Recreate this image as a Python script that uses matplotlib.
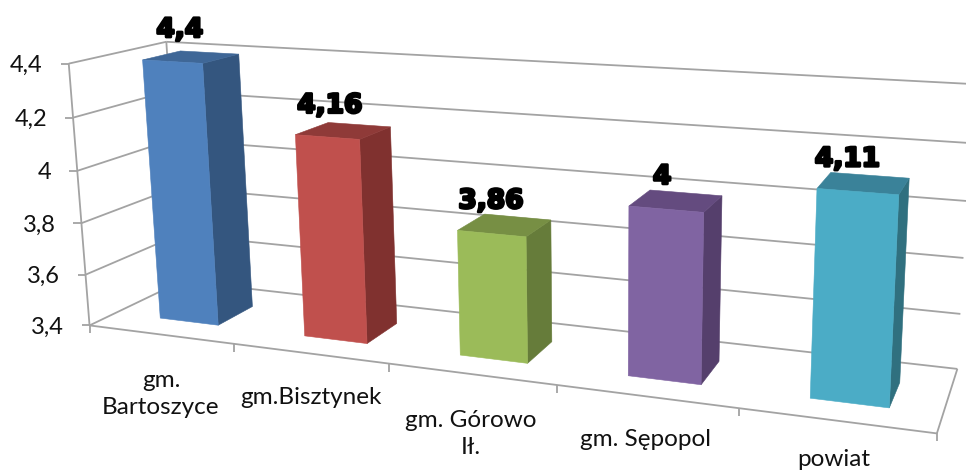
import numpy as np
import matplotlib
matplotlib.use("Agg")
import matplotlib.pyplot as plt
from matplotlib.patches import Polygon
import matplotlib.patheffects as pe

categories = ["gm.\nBartoszyce", "gm.Bisztynek", "gm. Górowo\nIł.", "gm. Sępopol", "powiat"]
values = [4.4, 4.16, 3.86, 4.0, 4.11]
value_labels = ["4,4", "4,16", "3,86", "4", "4,11"]
y_ticks = [3.4, 3.6, 3.8, 4.0, 4.2, 4.4]
y_tick_labels = ["3,4", "3,6", "3,8", "4", "4,2", "4,4"]

front_colors = ["#4F81BD", "#C0504D", "#9BBB59", "#8064A2", "#4BACC6"]
side_colors = ["#34567F", "#80312F", "#667C3A", "#553F6C", "#30707F"]
top_colors = ["#3F6797", "#8F3A38", "#778F44", "#644B7F", "#3A8299"]

Y_MIN, Y_MAX = 3.4, 4.4
BAR_W, BAR_C, Z0, Z1 = 0.41, 0.525, 0.27, 0.67

# Camera calibration of the chart frame: (category, value, depth) -> pixel
calib = [
    ((0, 3.4, 0), (90, 326)), ((1, 3.4, 0), (233, 345)), ((2, 3.4, 0), (389, 364)),
    ((3, 3.4, 0), (556, 385)), ((4, 3.4, 0), (738, 407)), ((5, 3.4, 0), (937, 433)),
    ((0, 4.4, 0), (69, 63)), ((0, 3.4, 1), (182, 280)), ((0, 4.4, 1), (166, 42)),
    ((5, 3.4, 1), (957, 369)), ((5, 3.6, 1), (962, 314)),
    ((4.32, 4.11, 0.27), (819, 188)), ((4.73, 4.11, 0.27), (899, 194)),
    ((4.73, 4.11, 0.72), (908, 178)),
]
A = []
for (X, V, Z), (u, w) in calib:
    Y = (V - Y_MIN) / (Y_MAX - Y_MIN)
    p = [X, Y, Z, 1]
    A.append(p + [0, 0, 0, 0] + [-u * c for c in p])
    A.append([0, 0, 0, 0] + p + [-w * c for c in p])
P = np.linalg.svd(np.array(A, float))[2][-1].reshape(3, 4)


def project(x, v, z):
    h = P @ np.array([x, (v - Y_MIN) / (Y_MAX - Y_MIN), z, 1.0])
    return h[0] / h[2], h[1] / h[2]


plt.rcParams["font.family"] = ["Lato", "DejaVu Sans"]
fig = plt.figure(figsize=(9.66, 4.70), dpi=100)
ax = fig.add_axes([0, 0, 1, 1])
ax.set_xlim(0, 966)
ax.set_ylim(470, 0)
ax.axis("off")

GRID = "#A3A3A3"
n = len(categories)


def seg(p, q, **kw):
    ax.plot([p[0], q[0]], [p[1], q[1]], color=GRID, lw=1.3, zorder=1,
            solid_capstyle="butt", **kw)


for t, lab in zip(y_ticks, y_tick_labels):
    a, b, c = project(0, t, 0), project(0, t, 1), project(n, t, 1)
    seg(a, b)
    seg(b, c)
    seg((a[0] - 8, a[1]), a)
    ax.text(a[0] - 26, a[1] + 2, lab, ha="right", va="center", fontsize=17, color="#111111")

seg(project(0, Y_MIN, 0), project(0, Y_MAX, 0))
seg(project(0, Y_MIN, 1), project(0, Y_MAX, 1))
seg(project(0, Y_MIN, 0), project(n, Y_MIN, 0))
seg(project(n, Y_MIN, 0), project(n, Y_MIN, 1))
for i in range(n + 1):
    f = project(i, Y_MIN, 0)
    seg(f, (f[0], f[1] + 8))

for i, v in enumerate(values):
    x0, x1 = i + BAR_C - BAR_W / 2, i + BAR_C + BAR_W / 2
    front = [project(x0, Y_MIN, Z0), project(x1, Y_MIN, Z0), project(x1, v, Z0), project(x0, v, Z0)]
    side = [project(x1, Y_MIN, Z0), project(x1, Y_MIN, Z1), project(x1, v, Z1), project(x1, v, Z0)]
    top = [project(x0, v, Z0), project(x1, v, Z0), project(x1, v, Z1), project(x0, v, Z1)]
    for pts, col in ((side, side_colors[i]), (top, top_colors[i]), (front, front_colors[i])):
        ax.add_patch(Polygon(pts, closed=True, facecolor=col, edgecolor=col, lw=0.4, zorder=3))

label_pos_offsets = [(-7, -27), (-9, -25), (-9, -24), (-9, -24), (-11, -24)]
for i, v in enumerate(values):
    c = project(i + 0.5, v, 0.46)
    dx, dy = label_pos_offsets[i]
    ax.text(c[0] + dx, c[1] + dy, value_labels[i], ha="center", va="center", fontsize=19,
            fontweight="bold", family="DejaVu Sans", color="black", zorder=5,
            path_effects=[pe.withStroke(linewidth=2.0, foreground="black")])

cat_pos = [(161, 394), (311, 398), (471, 434), (645, 440), (834, 460)]
for lab, (x, y) in zip(categories, cat_pos):
    ax.text(x, y, lab, ha="center", va="center", fontsize=17.5, color="#111111", linespacing=1.4)

fig.savefig("out.png", dpi=100)
